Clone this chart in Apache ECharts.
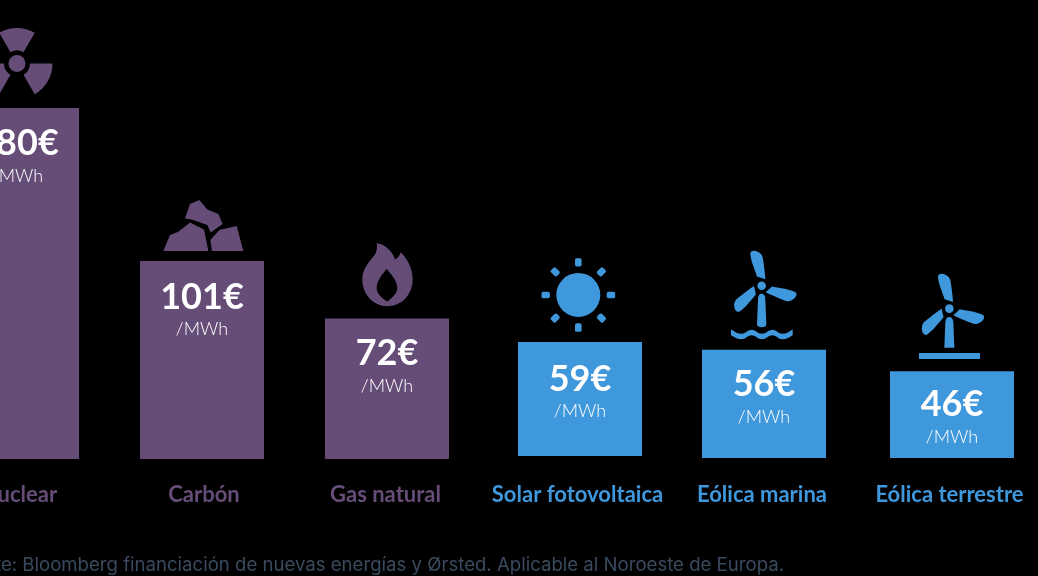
<!DOCTYPE html>
<html><head><meta charset="utf-8">
<style>html,body{margin:0;padding:0;background:#000}#c{width:1038px;height:576px}</style>
<script src="https://cdn.jsdelivr.net/npm/echarts@6/dist/echarts.min.js"></script>
</head><body><div id="c"></div>
<script>
const categories = ['Nuclear','Carbón','Gas natural','Solar fotovoltaica','Eólica marina','Eólica terrestre'];
const costs = [180,101,72,59,56,46];
const valueLabels = ['180€','101€','72€','59€','56€','46€'];
const unitLabel = '/MWh';
const footnote = 'Fuente: Bloomberg financiación de nuevas energías y Ørsted. Aplicable al Noroeste de Europa.';

const PURPLE='#654d78', BLUE='#3f97dc', FOOT='#3a4a5e';
const FONT='Lato';
// small layout nudges
const dx=[0,0,0,8,7,10], dTop=[0,-1,0,-2,0,2], dBase=[0,0,0,-3,-1,-1];
const dVal=[1,2,1,3,1,-1], dUnit=[1,1,1,2,0,-1], dCat=[2,2,-1.5,-2.5,-2,-2.5];
const BAR_W=124;

function p(d,b,ox,oy,fill){ // d in 3x-crop units, b its bounding box, ox/oy where crop origin lands
  return {type:'path',shape:{pathData:d,layout:'cover',x:ox+b[0]/3,y:oy+b[1]/3,width:(b[2]-b[0])/3,height:(b[3]-b[1])/3},style:{fill}};
}
function poly(pts,ox,oy,fill){
  return {type:'polygon',shape:{points:pts.map(q=>[ox+q[0]/3,oy+q[1]/3])},style:{fill}};
}
const BLADE='M 11,-20 L -14,-28 C -23,-55 -33,-75 -34,-95 Q -34,-105 -20,-104 Q -2,-100 3,-85 C 7,-60 10,-40 11,-20 Z';
function blade(rot){
  return {type:'group',rotation:rot,children:[p(BLADE,[-34,-105,11,-20],0,0,BLUE)]};
}
function turbine(hx,hy,extra){
  return {type:'group',x:hx,y:hy,children:[blade(0),blade(-2*Math.PI/3),blade(2*Math.PI/3),
    {type:'circle',shape:{cx:0,cy:0,r:4.3},style:{fill:BLUE}}].concat(extra)};
}
const icons=[
  function(){ // radiation
    const c=[0,-44.5]; const ch=[];
    [[-120,-60],[0,60],[120,180]].forEach(a=>ch.push({type:'sector',shape:{cx:c[0],cy:c[1],r0:13,r:35.5,startAngle:a[0]*Math.PI/180,endAngle:a[1]*Math.PI/180,clockwise:true},style:{fill:PURPLE}}));
    ch.push({type:'circle',shape:{cx:c[0],cy:c[1],r:8.5},style:{fill:PURPLE}});
    return ch;
  },
  function(){ // coal
    const ox=-72, oy=-71;
    return [
      poly([[165,85],[180,42],[208,30],[232,58],[265,72],[278,102],[242,127],[232,105],[185,88]],ox,oy,PURPLE),
      poly([[100,183],[120,135],[145,125],[180,97],[222,118],[235,183]],ox,oy,PURPLE),
      poly([[241,150],[268,120],[320,108],[340,183],[246,183]],ox,oy,PURPLE)
    ];
  },
  function(){ // flame
    const ox=130-387, oy=190-319;
    return [
      p('M 740 160 C 770 165 790 190 795 210 C 805 205 810 195 812 188 C 835 210 848 240 848 270 C 848 315 815 350 772 350 C 730 350 697 315 697 270 C 697 235 720 215 735 195 C 742 180 742 170 740 160 Z',[697,160,848,350],ox,oy,PURPLE),
      p('M 770 238 C 785 255 802 275 802 295 C 802 312 785 325 772 336 C 755 325 740 312 740 295 C 740 275 755 255 770 238 Z',[740,238,802,336],ox,oy,'#000')
    ];
  },
  function(){ // sun
    const cx=-1.7, cy=-47; const ch=[{type:'circle',shape:{cx,cy,r:22},style:{fill:BLUE}}];
    for(let k=0;k<8;k++){
      ch.push({type:'group',x:cx,y:cy,rotation:k*Math.PI/4,children:[{type:'rect',shape:{x:-3.3,y:-36.8,width:6.6,height:8.4,r:[1.5,1.5,2,2]},style:{fill:BLUE}}]});
    }
    return ch;
  },
  function(){ // offshore turbine
    const ox=520-764, oy=240-350;
    return [
      turbine(ox+725/3,oy+138/3,[p('M 0 24 C 7 24 11 30 11 40 L 14 116 C 14 122 8 124 0 124 C -8 124 -14 122 -14 116 L -11 40 C -11 30 -7 24 0 24 Z',[-14,24,14,124],0,0,BLUE)]),
      p('M633 268 C645 276 652 282 664 282 C678 282 682 270 695 270 C708 270 712 282 726 282 C740 282 744 270 757 270 C770 270 774 282 787 282 C800 282 808 276 818 268 L818 286 C808 292 800 298 787 298 C774 298 770 286 757 286 C744 286 740 298 726 298 C712 298 708 286 695 286 C682 286 678 298 664 298 C652 298 645 292 633 286 Z',[633,268,818,298],ox,oy,BLUE)
    ];
  },
  function(){ // onshore turbine
    const ox=880-952, oy=260-371;
    return [
      turbine(ox+208/3,oy+145/3,[p('M 0 25 C 6 25 11 30 12 40 L 15 117 L -15 117 L -12 40 C -11 30 -6 25 0 25 Z',[-15,25,15,117],0,0,BLUE)]),
      {type:'rect',shape:{x:ox+117/3,y:oy+278/3,width:61,height:6},style:{fill:BLUE}}
    ];
  }
];

function renderItem(params,api){
  const i=params.dataIndex;
  const color=i<3?PURPLE:BLUE;
  const top=api.coord([api.value(0),api.value(1)]);
  const base=api.coord([api.value(0),0]);
  const cx=top[0]+dx[i], ty=top[1]+dTop[i], by=base[1]+dBase[i];
  return {type:'group',children:[
    {type:'rect',shape:{x:cx-BAR_W/2,y:ty,width:BAR_W,height:by-ty},style:{fill:color}},
    {type:'text',style:{text:valueLabels[i],x:cx,y:ty+34+dVal[i],align:'center',verticalAlign:'middle',fill:'#fff',font:'700 36px '+FONT}},
    {type:'text',style:{text:unitLabel,x:cx,y:ty+67+dUnit[i],align:'center',verticalAlign:'middle',fill:'#fff',font:'300 18px '+FONT}},
    {type:'text',style:{text:categories[i],x:cx+dCat[i],y:base[1]+36,align:'center',verticalAlign:'middle',fill:color,font:'700 22px '+FONT}},
    {type:'group',x:cx,y:ty,children:icons[i]()}
  ]};
}

const chart=echarts.init(document.getElementById('c'),null,{renderer:'canvas'});
chart.setOption({
  animation:false,
  backgroundColor:'#000',
  grid:{left:-75.5,width:1110,top:69,height:390,outerBoundsMode:'none'},
  xAxis:{type:'category',data:categories,show:false},
  yAxis:{type:'value',min:0,max:200,show:false},
  graphic:[{type:'text',x:784,y:565,style:{text:footnote,fill:FOOT,align:'right',verticalAlign:'middle',font:'400 18.6px Inter'}}],
  series:[{type:'custom',clip:false,renderItem,encode:{x:0,y:1},data:categories.map((c,i)=>[i,costs[i]])}]
});
</script></body></html>
